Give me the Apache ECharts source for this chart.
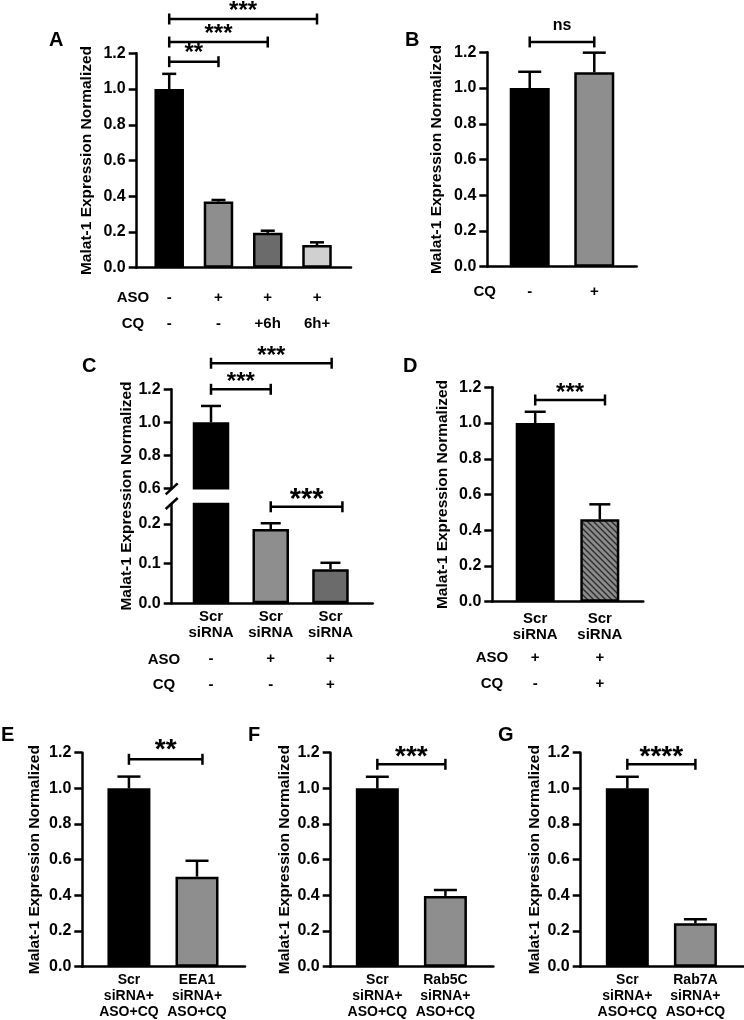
<!DOCTYPE html>
<html><head><meta charset="utf-8">
<script src="https://cdn.jsdelivr.net/npm/echarts@6/dist/echarts.min.js"></script>
<style>html,body{margin:0;padding:0;background:#fff}#c{width:744px;height:1020px}</style>
</head><body><div id="c"></div>
<script>
// ================= DATA =================
const yTicks = [0, 0.2, 0.4, 0.6, 0.8, 1.0, 1.2];
const yName = 'Malat-1 Expression Normalized';

// Panel A
const A_values = [1.0, 0.37, 0.195, 0.127];
const A_errors = [1.085, 0.379, 0.207, 0.142];
const A_aso = ['-', '+', '+', '+'];
const A_cq = ['-', '-', '+6h', '6h+'];
const A_brackets = [[0, 1, 1.153, '**'], [0, 2, 1.263, '***'], [0, 3, 1.392, '***']];

// Panel B
const B_values = [1.0, 1.088];
const B_errors = [1.091, 1.198];
const B_cq = ['-', '+'];
const B_brackets = [[0, 1, 1.258, 'ns']];

// Panel C (broken axis)
const C_groups = ['Scr\nsiRNA', 'Scr\nsiRNA', 'Scr\nsiRNA'];
const C_values = [1.0, 0.187, 0.086];
const C_errors = [1.099, 0.2015, 0.102];
const C_aso = ['-', '+', '+'];
const C_cq = ['-', '-', '+'];
const C_upperTicks = [0.6, 0.8, 1.0, 1.2];
const C_lowerTicks = [0.0, 0.1, 0.2];
const C_bracketsUpper = [[0, 1, 1.2, '***'], [0, 2.02, 1.358, '***']];
const C_bracketsLower = [[1, 2.2, 0.243, '***']];

// Panel D
const D_groups = ['Scr\nsiRNA', 'Scr\nsiRNA'];
const D_values = [1.0, 0.461];
const D_errors = [1.063, 0.545];
const D_aso = ['+', '+'];
const D_cq = ['-', '+'];
const D_brackets = [[0, 1.08, 1.129, '***']];

// Panel E
const E_groups = ['Scr\nsiRNA+\nASO+CQ', 'EEA1\nsiRNA+\nASO+CQ'];
const E_values = [1.0, 0.505];
const E_errors = [1.066, 0.594];
const E_brackets = [[0, 1.08, 1.163, '**']];

// Panel F
const F_groups = ['Scr\nsiRNA+\nASO+CQ', 'Rab5C\nsiRNA+\nASO+CQ'];
const F_values = [1.0, 0.397];
const F_errors = [1.065, 0.43];
const F_brackets = [[0, 1, 1.135, '***']];

// Panel G
const G_groups = ['Scr\nsiRNA+\nASO+CQ', 'Rab7A\nsiRNA+\nASO+CQ'];
const G_values = [1.0, 0.243];
const G_errors = [1.065, 0.266];
const G_brackets = [[0, 1, 1.135, '****']];

// ================= STYLE / LAYOUT =================
const FONT = 'Liberation Sans, Arial, sans-serif';
const BLACK = '#000';
const GRAY = '#8e8e8e';
const DARK = '#6b6b6b';
const LIGHT = '#d0d0d0';
const LW = 2.5;

// hatch pattern "\\\" for panel D
function makeHatch() {
  const s = 6;
  const c = document.createElement('canvas');
  c.width = s; c.height = s;
  const ctx = c.getContext('2d');
  ctx.fillStyle = '#8c8c8c';
  ctx.fillRect(0, 0, s, s);
  ctx.strokeStyle = '#2e2e2e';
  ctx.lineWidth = 1.4;
  ctx.beginPath();
  ctx.moveTo(-1, -1); ctx.lineTo(s + 1, s + 1);
  ctx.moveTo(-1, s - 1); ctx.lineTo(1, s + 1);
  ctx.moveTo(s - 1, -1); ctx.lineTo(s + 1, 1);
  ctx.stroke();
  return { image: c, repeat: 'repeat' };
}

const grids = [], xAxes = [], yAxes = [], series = [], graphics = [];

function addGrid(g) {
  grids.push({ left: g.left, top: g.top, width: g.width, height: g.height, containLabel: false });
  return grids.length - 1;
}

function makeX(gi, min, max, n, labelFn, rich, margin, show) {
  xAxes.push({
    type: 'value', gridIndex: gi, min: min, max: max, show: show !== false,
    splitLine: { show: false },
    axisLine: { show: true, onZero: false, lineStyle: { color: BLACK, width: LW } },
    axisTick: { show: false },
    axisLabel: {
      show: true, margin: margin, customValues: [...Array(n).keys()],
      formatter: v => labelFn(Math.round(v)), rich: rich, color: BLACK
    }
  });
  return xAxes.length - 1;
}

function makeY(gi, min, max, ticks, name, nameGap) {
  yAxes.push({
    type: 'value', gridIndex: gi, min: min, max: max,
    name: name || '', nameLocation: 'middle', nameGap: nameGap || 0,
    nameTextStyle: { fontSize: 15.5, fontWeight: 'bold', fontFamily: FONT, color: BLACK },
    splitLine: { show: false },
    axisLine: { show: true, onZero: false, lineStyle: { color: BLACK, width: LW } },
    axisTick: { show: true, length: 8, customValues: ticks, lineStyle: { color: BLACK, width: LW } },
    axisLabel: {
      show: true, margin: 11, customValues: ticks, formatter: v => v.toFixed(1),
      fontSize: 16, fontWeight: 'bold', fontFamily: FONT, color: BLACK
    }
  });
  return yAxes.length - 1;
}

function addBars(xi, yi, values, colors, barWidth, keep) {
  const data = [];
  values.forEach((v, i) => {
    if (keep && !keep(v, i)) return;
    data.push({ value: [i, v], itemStyle: { color: colors[i], borderColor: BLACK, borderWidth: LW } });
  });
  series.push({ type: 'bar', xAxisIndex: xi, yAxisIndex: yi, barWidth: barWidth, data: data, silent: true, animation: false, z: 2 });
}

function addErrors(xi, yi, values, errors, cap, keep) {
  const data = [];
  values.forEach((v, i) => { if (!keep || keep(v, i)) data.push([i, v, errors[i]]); });
  series.push({
    type: 'custom', xAxisIndex: xi, yAxisIndex: yi, clip: false, silent: true, animation: false, z: 3,
    data: data,
    renderItem: (params, api) => {
      const p0 = api.coord([api.value(0), api.value(1)]);
      const p1 = api.coord([api.value(0), api.value(2)]);
      const st = { stroke: BLACK, lineWidth: LW };
      return { type: 'group', children: [
        { type: 'line', shape: { x1: p0[0], y1: p0[1], x2: p1[0], y2: p1[1] }, style: st },
        { type: 'line', shape: { x1: p1[0] - cap / 2, y1: p1[1], x2: p1[0] + cap / 2, y2: p1[1] }, style: st }
      ] };
    }
  });
}

function addBrackets(xi, yi, list, size, offset) {
  series.push({
    type: 'custom', xAxisIndex: xi, yAxisIndex: yi, clip: false, silent: true, animation: false, z: 4,
    data: list.map(b => [b[0], b[1], b[2]]),
    renderItem: (params, api) => {
      const b = list[params.dataIndex];
      const p1 = api.coord([api.value(0), api.value(2)]);
      const p2 = api.coord([api.value(1), api.value(2)]);
      const st = { stroke: BLACK, lineWidth: LW };
      const t = 5.5;
      return { type: 'group', children: [
        { type: 'line', shape: { x1: p1[0], y1: p1[1], x2: p2[0], y2: p2[1] }, style: st },
        { type: 'line', shape: { x1: p1[0], y1: p1[1] - t, x2: p1[0], y2: p1[1] + t }, style: st },
        { type: 'line', shape: { x1: p2[0], y1: p2[1] - t, x2: p2[0], y2: p2[1] + t }, style: st },
        { type: 'text', x: (p1[0] + p2[0]) / 2, y: p1[1] - offset,
          style: { text: b[3], fontSize: size, fontWeight: 'bold', fontFamily: FONT, fill: BLACK, align: 'center', verticalAlign: 'middle' } }
      ] };
    }
  });
}

function addText(text, x, y, size, align, rotation) {
  graphics.push({ type: 'text', x: x, y: y, rotation: rotation || 0, silent: true,
    style: { text: text, fontSize: size, fontWeight: 'bold', fontFamily: FONT, fill: BLACK, align: align || 'center', verticalAlign: 'middle' } });
}

const sym = (lh) => ({ fontSize: 15, fontWeight: 'bold', fontFamily: FONT, color: BLACK, lineHeight: lh, align: 'center' });
const nm = (fs) => ({ fontSize: fs, fontWeight: 'bold', fontFamily: FONT, color: BLACK, lineHeight: 16, align: 'center' });
const wrap = (s, key) => s.split('\n').map(t => `{${key}|${t}}`).join('\n');

// ---------- Panel A ----------
{
  const g = addGrid({ left: 136.7, top: 53.3, width: 214.3, height: 214.4 });
  const xi = makeX(g, -0.66, 3.69, A_values.length, i => `{r|${A_aso[i]}}\n{r|${A_cq[i]}}`, { r: sym(26) }, 17);
  const yi = makeY(g, 0, 1.2, yTicks, yName, 42);
  addBars(xi, yi, A_values, [BLACK, GRAY, DARK, LIGHT], 29.5);
  addErrors(xi, yi, A_values, A_errors, 14);
  addBrackets(xi, yi, A_brackets, 24, 8);
  addText('ASO', 133, 298, 15);
  addText('CQ', 133, 324, 15);
  addText('A', 49, 40, 20, 'left');
}
// ---------- Panel B ----------
{
  const g = addGrid({ left: 487.3, top: 52.3, width: 149.4, height: 214.4 });
  const xi = makeX(g, -0.657, 1.657, B_values.length, i => `{r|${B_cq[i]}}`, { r: sym(26) }, 12.3);
  const yi = makeY(g, 0, 1.2, yTicks, yName, 43);
  addBars(xi, yi, B_values, [BLACK, GRAY], 40);
  addErrors(xi, yi, B_values, B_errors, 23);
  addBrackets(xi, yi, B_brackets, 16, 16.5);
  addText('CQ', 484.7, 292, 15);
  addText('B', 405, 40, 20, 'left');
}
// ---------- Panel C ----------
{
  const gu = addGrid({ left: 171.7, top: 389.3, width: 201, height: 99 });
  const gl = addGrid({ left: 171.7, top: 504, width: 201, height: 99.3 });
  const xu = makeX(gu, -0.658, 2.707, C_values.length, i => '', {}, 0, false);
  const yu = makeY(gu, 0.6, 1.2, C_upperTicks);
  const xl = makeX(gl, -0.658, 2.707, C_values.length,
    i => `${wrap(C_groups[i], 'n')}\n{s3|${C_aso[i]}}\n{s4|${C_cq[i]}}`,
    { n: nm(15), s3: sym(36), s4: sym(16) }, 6);
  const yl = makeY(gl, 0, 0.25, C_lowerTicks);
  const colors = [BLACK, GRAY, DARK];
  addBars(xu, yu, C_values, colors, 36.5, v => v > 0.6);
  addBars(xl, yl, C_values, colors, 36.5);
  addErrors(xu, yu, C_values, C_errors, 20, v => v > 0.25);
  addErrors(xl, yl, C_values, C_errors, 20, v => v <= 0.25);
  addBrackets(xu, yu, C_bracketsUpper, 24, 7);
  addBrackets(xl, yl, C_bracketsLower, 29, 6.7);
  // axis break marks at the ends of the two axis segments
  series.push({
    type: 'custom', xAxisIndex: xu, yAxisIndex: yu, clip: false, silent: true, animation: false, z: 5,
    data: [[-0.658, 0.6]],
    renderItem: (params, api) => {
      const p = api.coord([api.value(0), api.value(1)]);
      return { type: 'line', shape: { x1: p[0] - 6, y1: p[1] + 6, x2: p[0] + 6, y2: p[1] - 5 }, style: { stroke: BLACK, lineWidth: LW } };
    }
  });
  series.push({
    type: 'custom', xAxisIndex: xl, yAxisIndex: yl, clip: false, silent: true, animation: false, z: 5,
    data: [[-0.658, 0.25]],
    renderItem: (params, api) => {
      const p = api.coord([api.value(0), api.value(1)]);
      return { type: 'line', shape: { x1: p[0] - 6, y1: p[1] + 5, x2: p[0] + 6, y2: p[1] - 6 }, style: { stroke: BLACK, lineWidth: LW } };
    }
  });
  addText(yName, 126.7, 496, 15.5, 'center', Math.PI / 2);
  addText('ASO', 164, 660, 15);
  addText('CQ', 164, 685, 15);
  addText('C', 82, 366.5, 20, 'left');
}
// ---------- Panel D ----------
{
  const g = addGrid({ left: 492.3, top: 387.3, width: 151, height: 214.4 });
  const xi = makeX(g, -0.664, 1.673, D_values.length,
    i => `${wrap(D_groups[i], 'n')}\n{s3|${D_aso[i]}}\n{s4|${D_cq[i]}}`,
    { n: nm(15), s3: sym(30), s4: sym(21.4) }, 9.6);
  const yi = makeY(g, 0, 1.2, yTicks, yName, 41.3);
  addBars(xi, yi, D_values, [BLACK, makeHatch()], 39);
  addErrors(xi, yi, D_values, D_errors, 21);
  addBrackets(xi, yi, D_brackets, 24, 7.1);
  addText('ASO', 492, 658.3, 15);
  addText('CQ', 492, 684, 15);
  addText('D', 403, 366.5, 20, 'left');
}
// ---------- Panels E, F, G ----------
function bottomPanel(left, groups, values, errors, brackets, nameGap, offset, letter, letterX) {
  const g = addGrid({ left: left, top: 752.7, width: 162.7, height: 214 });
  const xi = makeX(g, -0.685, 1.705, values.length, i => wrap(groups[i], 'n'), { n: nm(14) }, 5.3);
  const yi = makeY(g, 0, 1.2, yTicks, yName, nameGap);
  addBars(xi, yi, values, [BLACK, GRAY], 43);
  addErrors(xi, yi, values, errors, 23);
  addBrackets(xi, yi, brackets, 28, offset);
  addText(letter, letterX, 735, 20, 'left');
}
bottomPanel(82.3, E_groups, E_values, E_errors, E_brackets, 39.6, 9.5, 'E', 1);
bottomPanel(330.7, F_groups, F_values, F_errors, F_brackets, 38, 7.1, 'F', 248);
bottomPanel(580.7, G_groups, G_values, G_errors, G_brackets, 38, 7.1, 'G', 498);

const chart = echarts.init(document.getElementById('c'), null, { renderer: 'canvas', width: 744, height: 1020 });
chart.setOption({
  backgroundColor: '#fff',
  animation: false,
  grid: grids, xAxis: xAxes, yAxis: yAxes, series: series,
  graphic: { elements: graphics }
});
</script>
</body></html>
